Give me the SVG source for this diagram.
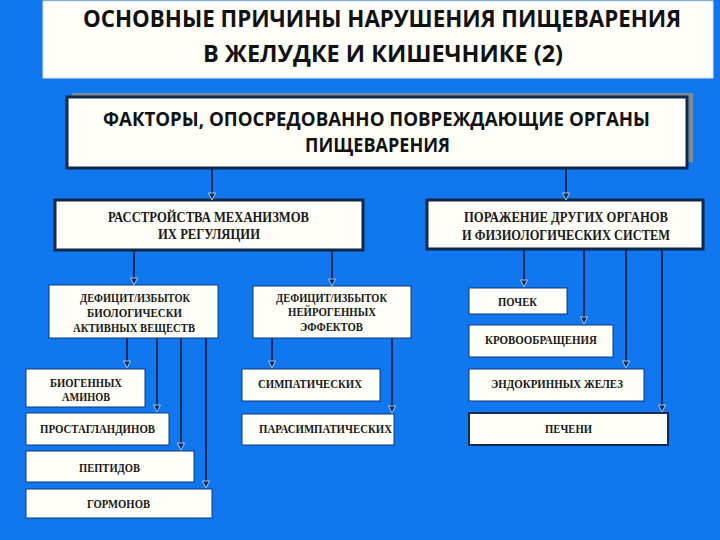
<svg xmlns="http://www.w3.org/2000/svg" width="720" height="540" viewBox="0 0 720 540">
<defs>
<marker id="ah" markerWidth="9" markerHeight="9" refX="8" refY="4.5" orient="auto" markerUnits="userSpaceOnUse" viewBox="0 0 9 9">
<path d="M1,1 L8,4.5 L1,8 Z" fill="#0b2a5c" stroke="#cfe3ff" stroke-width="0.8"/>
</marker>
<style>
.bg{fill:#1077ee}
.big{fill:#fffef8;stroke:#0d2a4a;stroke-width:3}
.box{fill:#fffef8;stroke:#0b3a78;stroke-width:1}
.hd{font-family:"Open Sans","Noto Sans","Liberation Sans",sans-serif;font-weight:bold;fill:#111;text-anchor:start}
.sm{font-family:"Liberation Serif","DejaVu Serif",serif;font-weight:bold;fill:#1a1a1a;text-anchor:start}
.con line{stroke:#0b2a5c;stroke-width:2;marker-end:url(#ah)}
</style>
</defs>
<rect class="bg" x="0" y="0" width="720" height="540"/>

<g id="title">
<rect x="43" y="1" width="670" height="77" fill="#fffef9" stroke="#e8e0d0" stroke-width="1"/>
<text class="hd" x="83" y="27" font-size="23" textLength="598" lengthAdjust="spacingAndGlyphs">ОСНОВНЫЕ  ПРИЧИНЫ  НАРУШЕНИЯ  ПИЩЕВАРЕНИЯ</text>
<text class="hd" x="203" y="62" font-size="23" textLength="360" lengthAdjust="spacingAndGlyphs">В  ЖЕЛУДКЕ  И  КИШЕЧНИКЕ (2)</text>
</g>

<g id="main">
<rect x="72" y="93" width="621" height="69" fill="#7d8c99"/>
<rect class="big" x="67" y="97" width="620" height="71"/>
<text class="hd" x="103" y="126" font-size="19" textLength="547" lengthAdjust="spacingAndGlyphs">ФАКТОРЫ,  ОПОСРЕДОВАННО  ПОВРЕЖДАЮЩИЕ  ОРГАНЫ</text>
<text class="hd" x="305" y="152" font-size="19" textLength="145" lengthAdjust="spacingAndGlyphs">ПИЩЕВАРЕНИЯ</text>
</g>

<g id="reg">
<rect class="big" x="55" y="200" width="308" height="50"/>
<text class="sm" x="108" y="222" font-size="14" textLength="201" lengthAdjust="spacingAndGlyphs">РАССТРОЙСТВА МЕХАНИЗМОВ</text>
<text class="sm" x="158" y="239" font-size="14" textLength="102" lengthAdjust="spacingAndGlyphs">ИХ РЕГУЛЯЦИИ</text>
</g>

<g id="organs">
<rect class="big" x="427" y="200" width="276" height="49"/>
<text class="sm" x="464" y="222" font-size="14" textLength="204" lengthAdjust="spacingAndGlyphs">ПОРАЖЕНИЕ ДРУГИХ ОРГАНОВ</text>
<text class="sm" x="462" y="240" font-size="14" textLength="208" lengthAdjust="spacingAndGlyphs">И ФИЗИОЛОГИЧЕСКИХ СИСТЕМ</text>
</g>

<g id="bio">
<rect class="box" x="49" y="285" width="169" height="53"/>
<text class="sm" x="80" y="302" font-size="12" textLength="110" lengthAdjust="spacingAndGlyphs">ДЕФИЦИТ/ИЗБЫТОК</text>
<text class="sm" x="87" y="317" font-size="12" textLength="95" lengthAdjust="spacingAndGlyphs">БИОЛОГИЧЕСКИ</text>
<text class="sm" x="73" y="332" font-size="12" textLength="122" lengthAdjust="spacingAndGlyphs">АКТИВНЫХ ВЕЩЕСТВ</text>
</g>

<g id="neuro">
<rect class="box" x="253" y="286" width="158" height="52"/>
<text class="sm" x="276" y="302" font-size="12" textLength="111" lengthAdjust="spacingAndGlyphs">ДЕФИЦИТ/ИЗБЫТОК</text>
<text class="sm" x="288" y="316" font-size="12" textLength="88" lengthAdjust="spacingAndGlyphs">НЕЙРОГЕННЫХ</text>
<text class="sm" x="300" y="331" font-size="12" textLength="63" lengthAdjust="spacingAndGlyphs">ЭФФЕКТОВ</text>
</g>

<g id="amines">
<rect class="box" x="26" y="369" width="119" height="38"/>
<text class="sm" x="50" y="387" font-size="12" textLength="72" lengthAdjust="spacingAndGlyphs">БИОГЕННЫХ</text>
<text class="sm" x="62" y="401" font-size="12" textLength="48" lengthAdjust="spacingAndGlyphs">АМИНОВ</text>
</g>

<g id="prost">
<rect class="box" x="26" y="413" width="143" height="32"/>
<text class="sm" x="40" y="433" font-size="12" textLength="115" lengthAdjust="spacingAndGlyphs">ПРОСТАГЛАНДИНОВ</text>
</g>

<g id="pept">
<rect class="box" x="26" y="451" width="168" height="31"/>
<text class="sm" x="79" y="472" font-size="12" textLength="61" lengthAdjust="spacingAndGlyphs">ПЕПТИДОВ</text>
</g>

<g id="horm">
<rect class="box" x="26" y="489" width="186" height="29"/>
<text class="sm" x="87" y="508" font-size="12" textLength="63" lengthAdjust="spacingAndGlyphs">ГОРМОНОВ</text>
</g>

<g id="symp">
<rect class="box" x="242" y="369" width="138" height="32"/>
<text class="sm" x="258" y="388" font-size="12" textLength="104" lengthAdjust="spacingAndGlyphs">СИМПАТИЧЕСКИХ</text>
</g>

<g id="parasymp">
<rect class="box" x="242" y="414" width="152" height="31"/>
<text class="sm" x="259" y="433" font-size="12" textLength="133" lengthAdjust="spacingAndGlyphs">ПАРАСИМПАТИЧЕСКИХ</text>
</g>

<g id="kidney">
<rect class="box" x="469" y="288" width="98" height="26"/>
<text class="sm" x="498" y="306" font-size="12" textLength="39" lengthAdjust="spacingAndGlyphs">ПОЧЕК</text>
</g>

<g id="blood">
<rect class="box" x="469" y="325" width="144" height="32"/>
<text class="sm" x="485" y="344" font-size="12" textLength="112" lengthAdjust="spacingAndGlyphs">КРОВООБРАЩЕНИЯ</text>
</g>

<g id="endo">
<rect class="box" x="469" y="369" width="175" height="32"/>
<text class="sm" x="491" y="388" font-size="12" textLength="132" lengthAdjust="spacingAndGlyphs">ЭНДОКРИННЫХ  ЖЕЛЕЗ</text>
</g>

<g id="liver">
<rect x="469" y="413" width="199" height="32" fill="#fffef8" stroke="#0d2a4a" stroke-width="2"/>
<text class="sm" x="545" y="433" font-size="12" textLength="47" lengthAdjust="spacingAndGlyphs">ПЕЧЕНИ</text>
</g>

<g id="connectors" class="con">
<line x1="212" y1="169" x2="212" y2="200"/>
<line x1="566" y1="169" x2="566" y2="200"/>
<line x1="134" y1="251" x2="134" y2="285"/>
<line x1="332" y1="251" x2="332" y2="286"/>
<line x1="127" y1="338" x2="127" y2="368"/>
<line x1="157" y1="338" x2="157" y2="412"/>
<line x1="181" y1="338" x2="181" y2="450"/>
<line x1="206" y1="338" x2="206" y2="488"/>
<line x1="272" y1="338" x2="272" y2="368"/>
<line x1="392" y1="338" x2="392" y2="413"/>
<line x1="524" y1="250" x2="524" y2="287"/>
<line x1="584" y1="250" x2="584" y2="324"/>
<line x1="626" y1="250" x2="626" y2="368"/>
<line x1="662" y1="250" x2="662" y2="412"/>
</g>
</svg>
